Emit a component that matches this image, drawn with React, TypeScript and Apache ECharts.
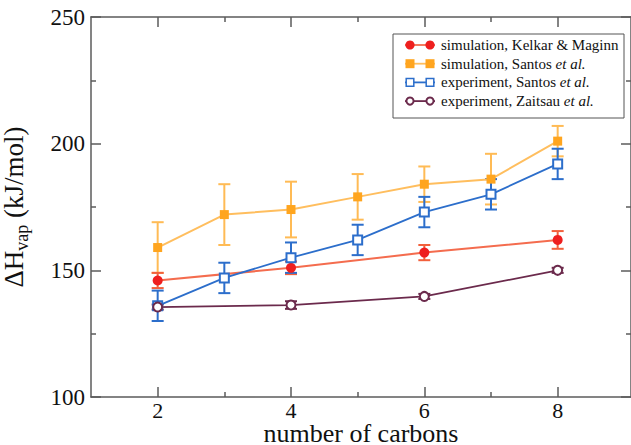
import React, { useEffect, useRef } from "react";
import * as echarts from "echarts";

const kelkarX = [2, 4, 6, 8];
const kelkarY = [146, 151, 157, 162];
const kelkarErr = [3, 2.5, 3, 3.5];

const santosSimX = [2, 3, 4, 5, 6, 7, 8];
const santosSimY = [159, 172, 174, 179, 184, 186, 201];
const santosSimErr = [10, 12, 11, 9, 7, 10, 6];

const santosExpX = [2, 3, 4, 5, 6, 7, 8];
const santosExpY = [136, 147, 155, 162, 173, 180, 192];
const santosExpErr = [6, 6, 6, 6, 6, 6, 6];

const zaitsauX = [2, 4, 6, 8];
const zaitsauY = [135.5, 136.3, 139.7, 150];
const zaitsauErr = [1, 1.5, 1, 1];

const xMajorTicks = [2, 4, 6, 8];
const xMinorTicks = [3, 5, 7];

const names = [
  "simulation, Kelkar & Maginn",
  "simulation, Santos et al.",
  "experiment, Santos et al.",
  "experiment, Zaitsau et al.",
];

const SERIF = "Liberation Serif";
const AXIS = "#5b5b5b";

const C_RED = "#ee1f1f";
const C_RED_LINE = "#f46c4e";
const C_RED_ERR = "#f2603c";
const C_ORA = "#ffa51f";
const C_ORA_LINE = "#ffbe5e";
const C_ORA_ERR = "#ffbb55";
const C_BLUE = "#2c6ecb";
const C_PUR = "#6b2a4c";

function pairs(xs: number[], ys: number[]) {
  return xs.map((x, i) => [x, ys[i]]);
}
function errData(xs: number[], ys: number[], es: number[]) {
  return xs.map((x, i) => [x, ys[i] - es[i], ys[i] + es[i]]);
}
function errSeries(name: string, data: number[][], color: string) {
  return {
    type: "custom",
    name,
    z: 2,
    data,
    encode: { x: 0, y: [1, 2] },
    renderItem: (params: any, api: any) => {
      const x = api.value(0);
      const lo = api.coord([x, api.value(1)]);
      const hi = api.coord([x, api.value(2)]);
      const w = 6;
      const style = { stroke: color, lineWidth: 2 };
      return {
        type: "group",
        children: [
          { type: "line", shape: { x1: lo[0], y1: lo[1], x2: hi[0], y2: hi[1] }, style },
          { type: "line", shape: { x1: lo[0] - w, y1: lo[1], x2: lo[0] + w, y2: lo[1] }, style },
          { type: "line", shape: { x1: hi[0] - w, y1: hi[1], x2: hi[0] + w, y2: hi[1] }, style },
        ],
      };
    },
  };
}

function measure(text: string, font: string) {
  const c = document.createElement("canvas").getContext("2d");
  if (!c) return text.length * 6.5;
  c.font = font;
  return c.measureText(text).width;
}

function marker(kind: string, cx: number, cy: number, color: string) {
  if (kind === "circle") return { type: "circle", shape: { cx, cy, r: 4.6 }, style: { fill: color } };
  if (kind === "rect") return { type: "rect", shape: { x: cx - 4.5, y: cy - 4.5, width: 9, height: 9 }, style: { fill: color } };
  if (kind === "emptyRect")
    return { type: "rect", shape: { x: cx - 3.8, y: cy - 3.8, width: 7.6, height: 7.6 }, style: { fill: "#fff", stroke: color, lineWidth: 1.5 } };
  return { type: "circle", shape: { cx, cy, r: 3.6 }, style: { fill: "#fff", stroke: color, lineWidth: 2 } };
}

function buildLegend() {
  const kinds = ["circle", "rect", "emptyRect", "emptyCircle"];
  const markerColors = [C_RED, C_ORA, C_BLUE, C_PUR];
  const lineColors = [C_RED_LINE, C_ORA_LINE, C_BLUE, C_PUR];
  const fontSize = 15;
  const plainFont = `${fontSize}px ${SERIF}`;
  const children: any[] = [
    { type: "rect", shape: { x: 393, y: 34, width: 231, height: 84 }, style: { fill: "#fff", stroke: "#555", lineWidth: 1 } },
  ];
  names.forEach((n, i) => {
    const y = 45 + i * 18.7;
    children.push({ type: "line", shape: { x1: 405, y1: y, x2: 435, y2: y }, style: { stroke: lineColors[i], lineWidth: 1.8 } });
    children.push(marker(kinds[i], 410, y, markerColors[i]));
    children.push(marker(kinds[i], 430, y, markerColors[i]));
    const k = n.indexOf("et al.");
    const plain = k < 0 ? n : n.slice(0, k);
    children.push({
      type: "text",
      x: 441,
      y,
      style: { text: plain, fontFamily: SERIF, fontSize, fill: "#111", verticalAlign: "middle", align: "left" },
    });
    if (k >= 0) {
      children.push({
        type: "text",
        x: 441 + measure(plain, plainFont),
        y,
        style: { text: "et al.", fontFamily: SERIF, fontSize, fontStyle: "italic", fill: "#111", verticalAlign: "middle", align: "left" },
      });
    }
  });
  return { type: "group", z: 100, children };
}

export default function App() {
  const ref = useRef<HTMLDivElement>(null);
  useEffect(() => {
    if (!ref.current) return;
    const chart = echarts.init(ref.current, null, { renderer: "svg" });
    const xBase = { type: "value", min: 1, max: 9.1, gridIndex: 0, splitLine: { show: false } };
    const tickLine = { color: AXIS, width: 1.5 };
    chart.setOption({
      animation: false,
      backgroundColor: "#ffffff",
      textStyle: { fontFamily: SERIF, color: "#111" },
      grid: { left: 91, right: 0, top: 17, bottom: 48, outerBoundsMode: "none", containLabel: false },
      xAxis: [
        {
          ...xBase,
          position: "bottom",
          name: "number of carbons",
          nameLocation: "middle",
          nameGap: 25,
          nameMoveOverlap: false,
          nameTextStyle: { fontFamily: SERIF, fontSize: 26, lineHeight: 22, color: "#111" },
          axisLine: { show: true, lineStyle: { color: AXIS, width: 1.5 } },
          axisTick: { show: true, inside: true, length: 10, customValues: xMajorTicks, lineStyle: tickLine },
          axisLabel: { customValues: xMajorTicks, fontFamily: SERIF, fontSize: 22, lineHeight: 18, color: "#111", margin: 4 },
        },
        {
          ...xBase,
          position: "bottom",
          axisLine: { show: false },
          axisTick: { show: true, inside: true, length: 5, customValues: xMinorTicks, lineStyle: tickLine },
          axisLabel: { show: false },
        },
        {
          ...xBase,
          position: "top",
          axisLine: { show: true, onZero: false, lineStyle: { color: AXIS, width: 1.5 } },
          axisTick: { show: true, inside: true, length: 10, customValues: xMajorTicks, lineStyle: tickLine },
          axisLabel: { show: false },
        },
        {
          ...xBase,
          position: "top",
          axisLine: { show: false },
          axisTick: { show: true, inside: true, length: 5, customValues: xMinorTicks, lineStyle: tickLine },
          axisLabel: { show: false },
        },
      ],
      yAxis: [
        {
          type: "value",
          min: 100,
          max: 250,
          interval: 50,
          position: "left",
          splitLine: { show: false },
          name: "{m|ΔH}{s|vap}{m| (kJ/mol)}",
          nameLocation: "middle",
          nameGap: 60,
          nameMoveOverlap: false,
          nameTextStyle: {
            fontFamily: SERIF,
            fontSize: 27,
            color: "#111",
            rich: {
              m: { fontFamily: SERIF, fontSize: 27, color: "#111", lineHeight: 34 },
              s: { fontFamily: SERIF, fontSize: 18, color: "#111", lineHeight: 18, verticalAlign: "bottom", padding: [6, 0, 0, 0] },
            },
          },
          axisLine: { show: true, onZero: false, lineStyle: { color: AXIS, width: 1.5 } },
          axisTick: { show: true, inside: true, length: 10, lineStyle: tickLine },
          minorTick: { show: true, splitNumber: 2, length: 5, lineStyle: tickLine },
          axisLabel: { fontFamily: SERIF, fontSize: 23, color: "#111", margin: 6 },
        },
        {
          type: "value",
          min: 100,
          max: 250,
          interval: 50,
          position: "right",
          splitLine: { show: false },
          axisLine: { show: true, onZero: false, lineStyle: { color: AXIS, width: 1.5 } },
          axisTick: { show: true, inside: true, length: 10, lineStyle: tickLine },
          minorTick: { show: true, splitNumber: 2, length: 5, lineStyle: tickLine },
          axisLabel: { show: false },
        },
      ],
      graphic: [buildLegend()],
      series: [
        errSeries("err0", errData(santosSimX, santosSimY, santosSimErr), C_ORA_ERR),
        errSeries("err1", errData(kelkarX, kelkarY, kelkarErr), C_RED_ERR),
        errSeries("err2", errData(santosExpX, santosExpY, santosExpErr), C_BLUE),
        errSeries("err3", errData(zaitsauX, zaitsauY, zaitsauErr), C_PUR),
        {
          type: "line",
          name: names[1],
          z: 3,
          data: pairs(santosSimX, santosSimY),
          symbol: "rect",
          symbolSize: 9,
          itemStyle: { color: C_ORA },
          lineStyle: { color: C_ORA_LINE, width: 2 },
        },
        {
          type: "line",
          name: names[0],
          z: 3,
          data: pairs(kelkarX, kelkarY),
          symbol: "circle",
          symbolSize: 10,
          itemStyle: { color: C_RED },
          lineStyle: { color: C_RED_LINE, width: 2 },
        },
        {
          type: "line",
          name: names[2],
          z: 4,
          data: pairs(santosExpX, santosExpY),
          symbol: "emptyRect",
          symbolSize: 9,
          itemStyle: { color: C_BLUE, borderWidth: 1.5 },
          lineStyle: { color: C_BLUE, width: 1.8 },
        },
        {
          type: "line",
          name: names[3],
          z: 4,
          data: pairs(zaitsauX, zaitsauY),
          symbol: "emptyCircle",
          symbolSize: 9,
          itemStyle: { color: C_PUR, borderWidth: 2.2 },
          lineStyle: { color: C_PUR, width: 1.8 },
        },
      ],
    });
    return () => chart.dispose();
  }, []);
  return <div ref={ref} style={{ width: 631, height: 445, position: "absolute", left: 0, top: 0 }} />;
}
